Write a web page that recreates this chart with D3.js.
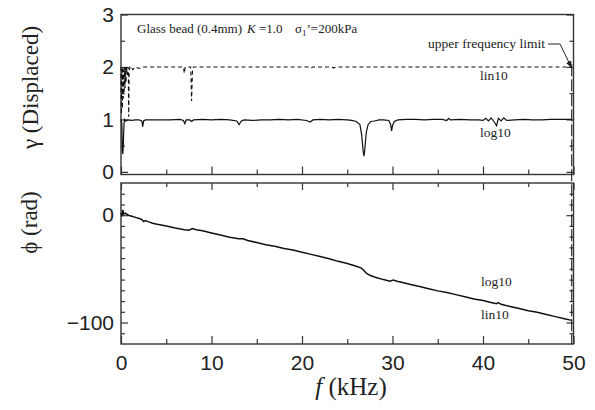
<!DOCTYPE html>
<html><head><meta charset="utf-8">
<script src="https://cdn.jsdelivr.net/npm/d3@7"></script>
<style>
html,body{margin:0;padding:0;background:#fff;}
text{fill:#222;}
</style></head>
<body><svg id="c" width="595" height="410"></svg>
<script>
// ---- data ----
const xTicks = [0, 10, 20, 30, 40, 50];
const xMinorTicks = [5, 15, 25, 35, 45];
const gammaTicks = [0, 1, 2, 3];
const gammaMinorTicks = [0.5, 1.5, 2.5];
const phaseTicks = [0, -100];
const phaseMinorTicks = [20, 10, -10, -20, -30, -40, -50, -60, -70, -80, -90, -110];
const limitFreq = 49.8;

// gamma, log10 sampling: [f (kHz), gamma]
const gammaLog10 = [
 [0,1.0],[0.1,0.9],[0.15,0.4],[0.2,0.34],[0.25,0.5],[0.3,0.75],[0.35,0.95],[0.4,1.0],[0.5,0.97],
 [0.8,0.99],[1.2,0.98],[1.6,0.99],[2.0,0.99],[2.3,0.97],[2.4,0.86],[2.5,0.97],[2.7,0.99],[3.5,0.99],
 [4.5,0.99],[5.5,0.99],[6.5,1.0],[6.9,0.98],[7.05,0.92],[7.2,0.99],[7.6,0.99],[7.8,0.96],[8.0,0.99],
 [9,1.0],[10,0.99],[11,1.0],[12,0.99],[12.8,0.97],[13.05,0.9],[13.3,0.97],[13.6,0.99],[14.5,0.98],
 [15.5,0.99],[16.5,0.99],[17.5,1.0],[18.5,0.99],[19.5,1.0],[20.5,0.98],[20.9,0.95],[21.2,0.99],
 [22,1.0],[23,0.99],[24,1.0],[25,0.99],[25.5,0.98],[26.0,0.96],[26.4,0.9],[26.6,0.7],[26.75,0.4],
 [26.85,0.3],[26.95,0.45],[27.1,0.75],[27.3,0.9],[27.6,0.96],[28,0.97],[28.5,0.99],[29,0.99],
 [29.6,0.98],[29.8,0.9],[29.9,0.78],[30.0,0.88],[30.2,0.96],[30.6,0.99],[31.5,1.0],[32.5,1.0],
 [33.5,0.99],[34.5,1.0],[35.5,1.0],[36.0,0.98],[36.2,1.02],[36.4,0.99],[37.5,1.0],[38.5,0.99],
 [39.5,0.99],[40.0,0.98],[40.3,1.02],[40.6,0.97],[40.9,1.03],[41.2,0.96],[41.5,0.88],[41.7,1.02],
 [42.0,0.97],[42.3,1.03],[42.6,0.98],[43.5,0.99],[44.5,1.0],[45.5,0.99],[46.5,0.99],[47.5,1.0],
 [48.5,1.0],[49.5,1.0],[49.8,1.0]
];

// gamma, lin10 sampling (displaced by +1)
const gammaLin10 = [
 [0,2.0],[0.05,1.1],[0.1,1.95],[0.15,1.2],[0.2,2.0],[0.25,1.4],[0.3,1.95],[0.35,1.5],[0.4,2.0],
 [0.45,1.6],[0.5,2.0],[0.55,1.7],[0.6,2.0],[0.7,1.85],[0.8,2.0],[0.85,1.05],[0.9,1.9],[1.0,2.02],
 [1.3,1.95],[1.6,2.0],[2.0,1.97],[2.5,2.0],[4,2.0],[6.9,2.0],[7.0,1.88],[7.1,2.0],[7.7,2.0],
 [7.8,1.35],[7.9,1.95],[8.0,2.0],[15,2.0],[20.8,2.0],[21.0,1.98],[21.2,2.0],[23.3,2.0],[23.5,1.98],
 [23.7,2.0],[35,2.0],[49.8,2.0]
];

// phase (rad), log10 / lin10 (coincident)
const phase = [
 [0,2],[0.1,-1],[0.2,5],[0.3,1],[0.5,2],[0.8,0],[1.2,-1],[1.6,-2],[2.0,-3],[2.3,-4],[2.5,-6],
 [2.7,-5],[3.0,-6],[3.5,-7.5],[4.0,-8.5],[5,-10],[6,-12],[7,-13.5],[7.5,-14],[7.9,-12.5],[8.3,-13.5],
 [9,-14.5],[10,-16.5],[11,-18.5],[12,-20.5],[13,-22],[13.5,-22],[14,-23.5],[15,-25.5],[16,-27.5],
 [17,-29],[18,-31],[19,-32.5],[20,-34.5],[21,-36.5],[22,-38.5],[23,-40.5],[24,-43],[25,-45],
 [26,-47.5],[26.5,-49],[26.8,-51],[27.1,-54],[27.5,-56],[28,-57.5],[29,-60],[29.7,-61.5],
 [30.1,-60.5],[30.5,-61.5],[31,-62.5],[32,-64.5],[33,-66.5],[34,-68.5],[35,-70.5],[36,-72],
 [37,-74],[38,-76],[39,-78],[40,-79.5],[41,-81.5],[41.5,-82.5],[41.7,-81.5],[42,-83],[43,-85],
 [44,-87],[45,-89],[46,-90.5],[47,-92.5],[48,-94.5],[49,-96.5],[49.8,-98]
];

// ---- drawing ----
const svg = d3.select("#c");
svg.append("rect").attr("width",595).attr("height",410).attr("fill","#fff");

const x = d3.scaleLinear([0,50],[121,573.5]);
const yTop = d3.scaleLinear([-0.05,3],[174.5,14.5]);
const yBot = d3.scaleLinear([-120,30],[344,183]);

const sansFont = "'Liberation Sans', Arial, sans-serif";
const serifFont = "'Liberation Serif', 'Times New Roman', serif";
const axisColor = "#333";

function styleAxis(g){
  g.select(".domain").remove();
  g.selectAll(".tick line").attr("stroke",axisColor).attr("stroke-width",1.2);
  g.selectAll(".tick text").attr("font-family",sansFont).attr("font-size",21).attr("fill","#222");
}

function panel(y, top, bottom, major, minor, labels, topTicks){
  svg.append("g").attr("transform",`translate(${x(0)},0)`)
    .call(d3.axisLeft(y).tickValues(major).tickSize(-7).tickPadding(7)
      .tickFormat(labels? (d=> d<0? "\u2212"+Math.abs(d) : d) : ""))
    .call(styleAxis);
  svg.append("g").attr("transform",`translate(${x(0)},0)`)
    .call(d3.axisLeft(y).tickValues(minor).tickSize(-4).tickFormat(""))
    .call(styleAxis);
  svg.append("g").attr("transform",`translate(${x(50)},0)`)
    .call(d3.axisRight(y).tickValues(major).tickSize(-7).tickFormat(""))
    .call(styleAxis);
  svg.append("g").attr("transform",`translate(${x(50)},0)`)
    .call(d3.axisRight(y).tickValues(minor).tickSize(-4).tickFormat(""))
    .call(styleAxis);
  svg.append("g").attr("transform",`translate(0,${bottom})`)
    .call(d3.axisBottom(x).tickValues(xTicks).tickSize(-8).tickFormat(""))
    .call(styleAxis);
  svg.append("g").attr("transform",`translate(0,${bottom})`)
    .call(d3.axisBottom(x).tickValues(xMinorTicks).tickSize(-5).tickFormat(""))
    .call(styleAxis);
  if(topTicks){
    svg.append("g").attr("transform",`translate(0,${top})`)
      .call(d3.axisTop(x).tickValues(xTicks).tickSize(-7).tickFormat(""))
      .call(styleAxis);
    svg.append("g").attr("transform",`translate(0,${top})`)
      .call(d3.axisTop(x).tickValues(xMinorTicks).tickSize(-4).tickFormat(""))
      .call(styleAxis);
  }
  svg.append("rect").attr("x",x(0)).attr("y",top).attr("width",x(50)-x(0)).attr("height",bottom-top)
    .attr("fill","none").attr("stroke",axisColor).attr("stroke-width",1.4);
}

panel(yTop, yTop(3), yTop(-0.05), gammaTicks, gammaMinorTicks, true, false);
panel(yBot, yBot(30), yBot(-120), phaseTicks, phaseMinorTicks, true, true);

svg.append("g").attr("transform",`translate(0,${yBot(-120)})`)
  .call(d3.axisBottom(x).tickValues(xTicks).tickSize(0).tickPadding(11))
  .call(styleAxis);

const lineTop = d3.line().x(d=>x(d[0])).y(d=>yTop(d[1]));
const lineBot = d3.line().x(d=>x(d[0])).y(d=>yBot(d[1]));

svg.append("path").datum(gammaLin10).attr("d",lineTop)
  .attr("fill","none").attr("stroke","#111").attr("stroke-width",1.1).attr("stroke-dasharray","4,3");
svg.append("path").datum(gammaLog10).attr("d",lineTop)
  .attr("fill","none").attr("stroke","#111").attr("stroke-width",1.2);
svg.append("path").datum(phase).attr("d",lineBot)
  .attr("fill","none").attr("stroke","#111").attr("stroke-width",1.5);

svg.append("line")
  .attr("x1",x(limitFreq)).attr("x2",x(limitFreq))
  .attr("y1",yTop(2.05)).attr("y2",yBot(-120))
  .attr("stroke","#222").attr("stroke-width",1.1).attr("stroke-dasharray","12,3");

const t = svg.append("text").attr("font-family",serifFont).attr("font-size",13).attr("y",33);
t.append("tspan").attr("x",137).text("Glass bead (0.4mm)");
t.append("tspan").attr("x",247).attr("font-style","italic").text("K");
t.append("tspan").text(" =1.0");
t.append("tspan").attr("x",295).text("\u03c3");
t.append("tspan").attr("font-size",9).attr("dy",3).text("1");
t.append("tspan").attr("dy",-3).text("\u2019=200kPa");

svg.append("text").attr("font-family",serifFont).attr("font-size",13.5)
  .attr("x",545).attr("y",48).attr("text-anchor","end").text("upper frequency limit");

svg.append("defs").append("marker").attr("id","arr").attr("viewBox","0 0 10 10")
  .attr("refX",10).attr("refY",5).attr("markerWidth",7).attr("markerHeight",7).attr("orient","auto")
  .append("path").attr("d","M0,1 L10,5 L0,9 Z").attr("fill","#222");
svg.append("path").attr("d",`M548,44 L560,44 L${x(limitFreq)},${yTop(1.98)}`)
  .attr("fill","none").attr("stroke","#222").attr("stroke-width",1).attr("marker-end","url(#arr)");

const lab = (xx,yy,s)=>svg.append("text").attr("font-family",serifFont).attr("font-size",13.5)
  .attr("x",xx).attr("y",yy).text(s);
lab(480,80,"lin10");
lab(480,137,"log10");
lab(481,286,"log10");
lab(481,319,"lin10");

svg.append("text").attr("font-family",serifFont).attr("font-size",23)
  .attr("transform","translate(38,87.5) rotate(-90)").attr("text-anchor","middle").text("\u03b3 (Displaced)");
svg.append("text").attr("font-family",serifFont).attr("font-size",23)
  .attr("transform","translate(37,222.5) rotate(-90)").attr("text-anchor","middle").text("\u03d5 (rad)");
const xt = svg.append("text").attr("font-family",serifFont).attr("font-size",25)
  .attr("x",351).attr("y",395).attr("text-anchor","middle");
xt.append("tspan").attr("font-style","italic").text("f");
xt.append("tspan").text(" (kHz)");
</script></body></html>
